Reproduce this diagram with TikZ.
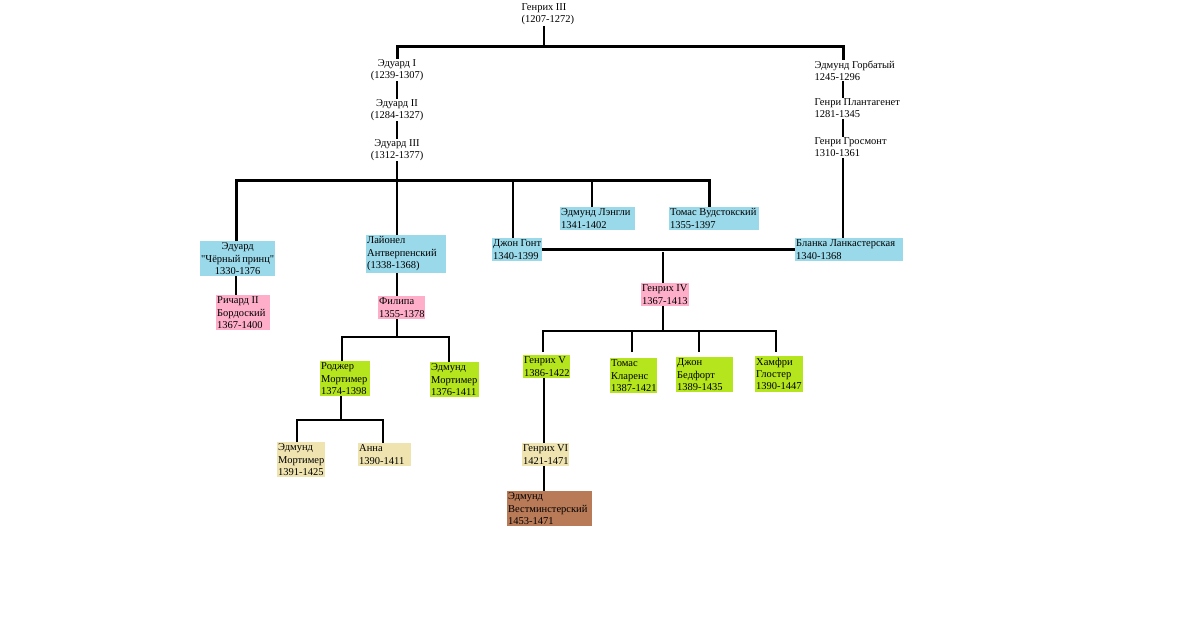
\documentclass[tikz,border=0pt]{standalone}
\usepackage{fontspec}
\setmainfont{Liberation Serif}
\definecolor{paleblue}{RGB}{153,217,234}
\definecolor{rosepink}{RGB}{255,174,201}
\definecolor{limegreen}{RGB}{181,230,29}
\definecolor{sandbeige}{RGB}{239,228,176}
\definecolor{rustbrown}{RGB}{185,122,87}
\tikzset{
  line/.style={line width=2.3pt},
  bar/.style={line width=3pt},
  plain/.style={inner sep=0.5pt,align=left,anchor=north west},
  card/.style={inner xsep=1pt,inner ysep=1.6pt,align=flush left,anchor=north west,fill=#1,
    execute at begin node={\exhyphenpenalty=10000\hyphenpenalty=10000}},
}
\begin{document}
\begin{tikzpicture}[x=1pt,y=-1pt,font=\fontsize{10.5}{12.4}\selectfont]
\fill[white] (0,0) rectangle (1200,637);
% ancestors
\node[plain] (h3) at (521,3) {Генрих III\\(1207-1272)};
\node[align=center,inner sep=0.5pt] (e1) at (397,70) {Эдуард I\\(1239-1307)};
\node[align=center,inner sep=0.5pt] (e2) at (397,110) {Эдуард II\\(1284-1327)};
\node[align=center,inner sep=0.5pt] (e3) at (397,150) {Эдуард III\\(1312-1377)};
\node[plain] (eg) at (814,60) {Эдмунд Горбатый\\1245-1296};
\node[plain] (gp) at (814,98) {Генри Плантагенет\\1281-1345};
\node[plain] (gg) at (814,137) {Генри Гросмонт\\1310-1361};
% sons of Edward III
\node[card=paleblue,align=flush center,text width=73pt] (ebp) at (200,241) {Эдуард\\\textquotedbl Чёрный~принц\textquotedbl\\1330-1376};
\node[card=paleblue,text width=78pt] (lio) at (366,235) {Лайонел\\Антверпенский\\(1338-1368)};
\node[card=paleblue,text width=48pt] (jg) at (492,238) {Джон~Гонт\\1340-1399};
\node[card=paleblue,text width=73pt] (el) at (560,207) {Эдмунд~Лэнгли\\1341-1402};
\node[card=paleblue,text width=88pt] (tv) at (669,207) {Томас~Вудстокский\\1355-1397};
\node[card=paleblue,text width=106pt] (bl) at (795,238) {Бланка~Ланкастерская\\1340-1368};
% grandchildren
\node[card=rosepink,text width=52pt] (r2) at (216,295) {Ричард~II\\Бордоский\\1367-1400};
\node[card=rosepink,text width=45pt] (fil) at (378,296) {Филипа\\1355-1378};
\node[card=rosepink,text width=46pt] (h4) at (641,283) {Генрих~IV\\1367-1413};
\node[card=limegreen,text width=48pt] (rm) at (320,361) {Роджер\\Мортимер\\1374-1398};
\node[card=limegreen,text width=47pt] (em1) at (430,362) {Эдмунд\\Мортимер\\1376-1411};
\node[card=limegreen,text width=45pt] (h5) at (523,355) {Генрих~V\\1386-1422};
\node[card=limegreen,text width=45pt] (tk) at (610,358) {Томас\\Кларенс\\1387-1421};
\node[card=limegreen,text width=55pt] (jb) at (676,357) {Джон\\Бедфорт\\1389-1435};
\node[card=limegreen,text width=46pt] (hg) at (755,356) {Хамфри\\Глостер\\1390-1447};
\node[card=sandbeige,text width=46pt] (em2) at (277,442) {Эдмунд\\Мортимер\\1391-1425};
\node[card=sandbeige,text width=51pt] (an) at (358,443) {Анна\\1390-1411};
\node[card=sandbeige,text width=45pt] (h6) at (522,443) {Генрих~VI\\1421-1471};
\node[card=rustbrown,text width=83pt] (ew) at (507,491) {Эдмунд\\Вестминстерский\\1453-1471};
% junctions
\coordinate (j0) at (544,46);
\coordinate (jr) at (843,46);
\coordinate (j1) at (397,180);
\coordinate (j2) at (663,252);
\coordinate (j3) at (663,331);
\coordinate (j4) at (397,337);
\coordinate (j5) at (341,420);
% lines
\draw[line] (h3.south -| j0) -- (j0);
\draw[bar] (e1.north) |- (j0) -- (jr) -- (eg.north -| jr);
\draw[line] (e1) -- (e2);
\draw[line] (e2) -- (e3);
\draw[line] (eg.south -| jr) -- (gp.north -| jr);
\draw[line] (gp.south -| jr) -- (gg.north -| jr);
\draw[line] (gg.south -| jr) -- (bl.north -| jr);
\draw[line] (e3) -- (j1);
\draw[bar] (ebp.north -| 236,0) |- (j1) -| (tv.north -| 709,0);
\draw[line] (j1) -- (lio.north -| j1);
\draw[line] (jg.north -| 513,0) |- (j1);
\draw[line] (el.north -| 592,0) |- (j1);
\draw[line] (jg.east) -- (bl.west |- jg.east);
\draw[line] (j2) -- (h4.north -| j2);
\draw[line] (ebp.south -| 236,0) -- (r2.north -| 236,0);
\draw[line] (lio.south -| j1) -- (fil.north -| j1);
\draw[line] (fil.south -| j4) -- (j4);
\draw[line] (rm.north -| 342,0) |- (j4) -| (em1.north -| 449,0);
\draw[line] (rm.south -| j5) -- (j5);
\draw[line] (em2.north -| 297,0) |- (j5) -| (an.north -| 383,0);
\draw[line] (h4.south -| j3) -- (j3);
\draw[line,shorten <=3pt,shorten >=4pt] (h5.north -| 543,0) |- (j3) -| (hg.north -| 776,0);
\draw[line,shorten <=6pt] (tk.north -| 632,0) |- (j3);
\draw[line,shorten <=5pt] (jb.north -| 699,0) |- (j3);
\draw[line] (h5.south -| 544,0) -- (h6.north -| 544,0);
\draw[line] (h6.south -| 544,0) -- (ew.north -| 544,0);
\end{tikzpicture}
\end{document}
